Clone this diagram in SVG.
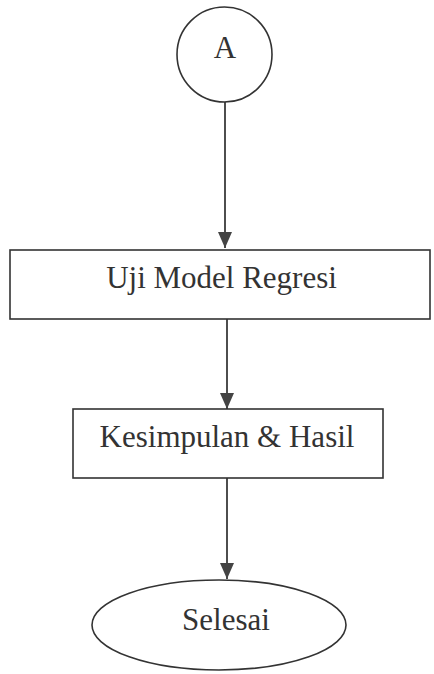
<svg xmlns="http://www.w3.org/2000/svg" width="434" height="674" viewBox="0 0 434 674">
  <style>
    .shape { fill: #ffffff; stroke: #333333; stroke-width: 1.6; }
    .label { font-family: "Liberation Serif", "Times New Roman", serif; font-size: 31px; fill: #333333; text-anchor: middle; }
    .edge { stroke: #3a3a3a; stroke-width: 1.8; fill: none; marker-end: url(#arrow); }
  </style>
  <defs>
    <marker id="arrow" markerUnits="userSpaceOnUse" markerWidth="17" markerHeight="15" refX="16" refY="7" orient="auto">
      <path d="M0,0 L16,7 L0,14 z" fill="#444444"/>
    </marker>
  </defs>
  <rect width="434" height="674" fill="#ffffff"/>
  <g id="connectors">
    <line class="edge" x1="225" y1="102" x2="225" y2="248"/>
    <line class="edge" x1="227" y1="319" x2="227" y2="409"/>
    <line class="edge" x1="227" y1="478" x2="227" y2="579"/>
  </g>
  <g id="node-A">
    <circle class="shape" cx="224.5" cy="54.5" r="47.5"/>
    <text class="label" x="225" y="58">A</text>
  </g>
  <g id="node-uji">
    <rect class="shape" x="10" y="250" width="420" height="69"/>
    <text class="label" x="221.5" y="288">Uji Model Regresi</text>
  </g>
  <g id="node-kesimpulan">
    <rect class="shape" x="73" y="409" width="310" height="69"/>
    <text class="label" x="227" y="447">Kesimpulan &amp; Hasil</text>
  </g>
  <g id="node-selesai">
    <ellipse class="shape" cx="219" cy="625" rx="127" ry="45"/>
    <text class="label" x="226" y="630">Selesai</text>
  </g>
</svg>
